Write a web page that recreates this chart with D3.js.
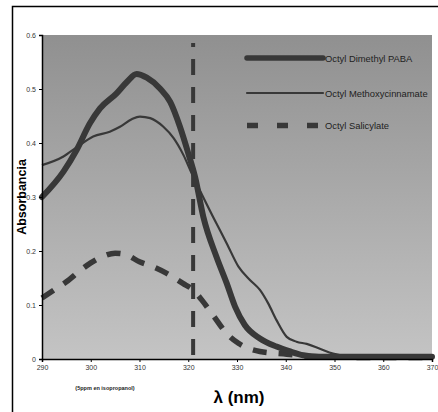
<!DOCTYPE html>
<html>
<head>
<meta charset="utf-8">
<script src="https://cdn.jsdelivr.net/npm/d3@7"></script>
<style>
  html, body { margin: 0; padding: 0; background: #fff; }
  svg { display: block; }
  text { font-family: "Liberation Sans", Arial, sans-serif; }
</style>
</head>
<body>
<svg id="chart" width="438" height="412"></svg>
<script>
// Absorbance spectra (5 ppm in isopropanol)
const wavelengthsPABA = [290, 294.4, 297.1, 299.8, 301.9, 305.3, 307.4, 309.4, 311.5, 314.2, 316.3, 318.3, 320, 321.4, 323.1, 325.8, 327.9, 329.6, 331.6, 334.7, 338.1, 340.9, 343.6, 347, 355, 370];
const absorbPABA      = [0.300, 0.347, 0.387, 0.436, 0.464, 0.492, 0.513, 0.528, 0.521, 0.501, 0.476, 0.430, 0.381, 0.337, 0.263, 0.189, 0.140, 0.097, 0.063, 0.038, 0.023, 0.014, 0.007, 0.004, 0.004, 0.004];

const wavelengthsOMC = [290, 294.4, 297.1, 300.5, 303.9, 306, 308.4, 310.1, 312.2, 314.9, 317, 319, 320.7, 321.7, 325.1, 327.9, 330.3, 332.7, 334.7, 336.4, 338.1, 340.2, 342.2, 344.3, 347, 349.7, 352.5, 360, 370];
const absorbOMC      = [0.359, 0.375, 0.392, 0.412, 0.421, 0.430, 0.444, 0.449, 0.446, 0.430, 0.409, 0.378, 0.344, 0.325, 0.263, 0.214, 0.171, 0.146, 0.128, 0.103, 0.072, 0.041, 0.032, 0.028, 0.019, 0.010, 0.006, 0.004, 0.004];

const wavelengthsOS = [290, 292, 295, 298, 300, 302.5, 305, 307, 310, 313, 315.5, 318.9, 321, 322.8, 325.1, 327.9, 330.3, 334.7, 340.2, 345, 355, 370];
const absorbOS      = [0.113, 0.125, 0.143, 0.165, 0.178, 0.190, 0.196, 0.194, 0.180, 0.170, 0.159, 0.140, 0.128, 0.109, 0.081, 0.047, 0.029, 0.014, 0.009, 0.005, 0.003, 0.003];

const seriesNames = ["Octyl Dimethyl PABA", "Octyl Methoxycinnamate", "Octyl Salicylate"];

// Reference wavelength marker
const markerWavelength = 321;
const markerRange = [0, 0.585];

const xTicks = [290, 300, 310, 320, 330, 340, 350, 360, 370];
const yTicks = [0, 0.1, 0.2, 0.3, 0.4, 0.5, 0.6];

const svg = d3.select("#chart");
const W = 438, H = 412;
const plot = { left: 42, right: 432, top: 35, bottom: 359 };

const x = d3.scaleLinear().domain([290, 370]).range([plot.left, plot.right]);
const y = d3.scaleLinear().domain([0, 0.6]).range([plot.bottom, plot.top]);

// Outer frame (left and top edges visible)
svg.append("path")
  .attr("d", `M12.5,${H} L12.5,6.5 L${W},6.5`)
  .attr("fill", "none").attr("stroke", "#000").attr("stroke-width", 1.5);

// Plot background gradient
const defs = svg.append("defs");
const grad = defs.append("linearGradient").attr("id", "bg").attr("x1", 0).attr("y1", 0).attr("x2", 0).attr("y2", 1);
grad.append("stop").attr("offset", "0%").attr("stop-color", "#909090");
grad.append("stop").attr("offset", "100%").attr("stop-color", "#c4c4c4");

svg.append("rect")
  .attr("x", plot.left).attr("y", plot.top)
  .attr("width", plot.right - plot.left).attr("height", plot.bottom - plot.top)
  .attr("fill", "url(#bg)");

const lineColor = "#383838";
const zip = (xs, ys) => xs.map((w, i) => [w, ys[i]]);
const line = d3.line().x(d => x(d[0])).y(d => y(d[1])).curve(d3.curveMonotoneX);

// Octyl Salicylate (dashed)
svg.append("path")
  .attr("d", line(zip(wavelengthsOS, absorbOS)))
  .attr("fill", "none").attr("stroke", lineColor)
  .attr("stroke-width", 5.5).attr("stroke-dasharray", "14,12");

// Octyl Methoxycinnamate (thin)
svg.append("path")
  .attr("d", line(zip(wavelengthsOMC, absorbOMC)))
  .attr("fill", "none").attr("stroke", lineColor)
  .attr("stroke-width", 2.2).attr("stroke-linejoin", "round");

// Octyl Dimethyl PABA (thick)
svg.append("path")
  .attr("d", line(zip(wavelengthsPABA, absorbPABA)))
  .attr("fill", "none").attr("stroke", lineColor)
  .attr("stroke-width", 6).attr("stroke-linejoin", "round").attr("stroke-linecap", "round");

// Vertical marker
svg.append("line")
  .attr("x1", x(markerWavelength)).attr("x2", x(markerWavelength))
  .attr("y1", y(markerRange[1])).attr("y2", y(markerRange[0]))
  .attr("stroke", lineColor).attr("stroke-width", 4)
  .attr("stroke-dasharray", "16,12").attr("stroke-dashoffset", 12);

// Axes
const xAxis = svg.append("g")
  .attr("transform", `translate(0,${plot.bottom})`)
  .call(d3.axisBottom(x).tickValues(xTicks).tickSize(3).tickPadding(3).tickFormat(d3.format("d")));
const yAxis = svg.append("g")
  .attr("transform", `translate(${plot.left},0)`)
  .call(d3.axisLeft(y).tickValues(yTicks).tickSize(3).tickPadding(3).tickFormat(d => d === 0 ? "0" : d3.format(".1f")(d)));

[xAxis, yAxis].forEach(g => {
  g.select(".domain").attr("stroke", "#000").attr("stroke-width", 1.5);
  g.selectAll(".tick line").attr("stroke", "#000");
  g.selectAll(".tick text").attr("fill", "#333").attr("font-size", 7)
    .attr("font-family", "'Liberation Sans', Arial, sans-serif");
});

// Legend
const legend = svg.append("g");
const legendRows = [
  { y: 58, width: 5.5, dash: null },
  { y: 93, width: 2.2, dash: null },
  { y: 125.5, width: 5.5, dash: "11,19" }
];
legendRows.forEach((r, i) => {
  legend.append("line")
    .attr("x1", 247).attr("x2", 323).attr("y1", r.y).attr("y2", r.y)
    .attr("stroke", lineColor).attr("stroke-width", r.width)
    .attr("stroke-linecap", r.dash ? "butt" : "round")
    .attr("stroke-dasharray", r.dash);
  legend.append("text")
    .attr("x", 325).attr("y", r.y + 3.5 + (i === 0 ? 0.5 : 0))
    .attr("font-size", 9.4).attr("fill", "#222")
    .text(seriesNames[i]);
});

// Axis titles
svg.append("text")
  .attr("transform", `translate(26,197) rotate(-90)`)
  .attr("text-anchor", "middle")
  .attr("font-size", 12.5).attr("font-weight", "bold").attr("fill", "#000")
  .text("Absorbancia");

svg.append("text")
  .attr("x", 239).attr("y", 403)
  .attr("text-anchor", "middle")
  .attr("font-size", 17).attr("font-weight", "bold").attr("fill", "#000")
  .text("λ (nm)");

svg.append("text")
  .attr("x", 105).attr("y", 390)
  .attr("text-anchor", "middle")
  .attr("font-size", 5.5).attr("font-weight", "bold").attr("fill", "#222")
  .text("(5ppm en isopropanol)");
</script>
</body>
</html>
